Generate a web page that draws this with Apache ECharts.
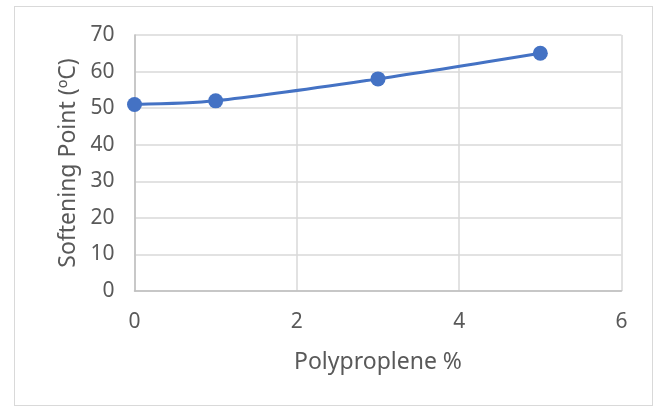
<!DOCTYPE html>
<html>
<head>
<meta charset="utf-8">
<script src="https://cdn.jsdelivr.net/npm/echarts@6/dist/echarts.min.js"></script>
<style>
html,body{margin:0;padding:0;background:#fff;}
#c{width:658px;height:410px;}
#frame{position:absolute;left:14px;top:6px;width:639px;height:400px;border:1px solid #d9d9d9;box-sizing:border-box;pointer-events:none;}
</style>
</head>
<body>
<div id="c"></div>
<div id="frame"></div>
<script>
const xValues = [0, 1, 3, 5];
const yValues = [51, 52, 58, 65];
const xTitle = 'Polyproplene %';
const yTitle = 'Softening Point (ºC)';

const FONT = 'Noto Sans';
const chart = echarts.init(document.getElementById('c'), null, {renderer: 'canvas'});
chart.setOption({
  animation: false,
  backgroundColor: '#fff',
  grid: {left: 134.5, right: 36.5, top: 35, bottom: 119, containLabel: false},
  xAxis: {
    type: 'value', min: 0, max: 6, interval: 2,
    name: xTitle, nameLocation: 'middle', nameGap: 60,
    nameTextStyle: {fontFamily: FONT, fontSize: 23, color: '#595959'},
    axisLine: {show: true, lineStyle: {color: '#bfbfbf', width: 1.5}},
    axisTick: {show: false},
    axisLabel: {fontFamily: FONT, fontSize: 21, color: '#595959', margin: 21},
    splitLine: {show: true, lineStyle: {color: '#d9d9d9', width: 1.5}}
  },
  yAxis: {
    type: 'value', min: 0, max: 70, interval: 10,
    name: yTitle, nameLocation: 'middle', nameGap: 51,
    nameTextStyle: {fontFamily: FONT, fontSize: 23, color: '#595959'},
    axisLine: {show: true, lineStyle: {color: '#bfbfbf', width: 1.5}},
    axisTick: {show: false},
    axisLabel: {fontFamily: FONT, fontSize: 21, color: '#595959', margin: 20},
    splitLine: {show: true, lineStyle: {color: '#d9d9d9', width: 1.5}}
  },
  series: [{
    type: 'line',
    data: xValues.map((x, i) => [x, yValues[i]]),
    smooth: 0.3,
    symbol: 'circle', symbolSize: 15,
    lineStyle: {color: '#4472c4', width: 3},
    itemStyle: {color: '#4472c4'}
  }]
});
</script>
</body>
</html>
